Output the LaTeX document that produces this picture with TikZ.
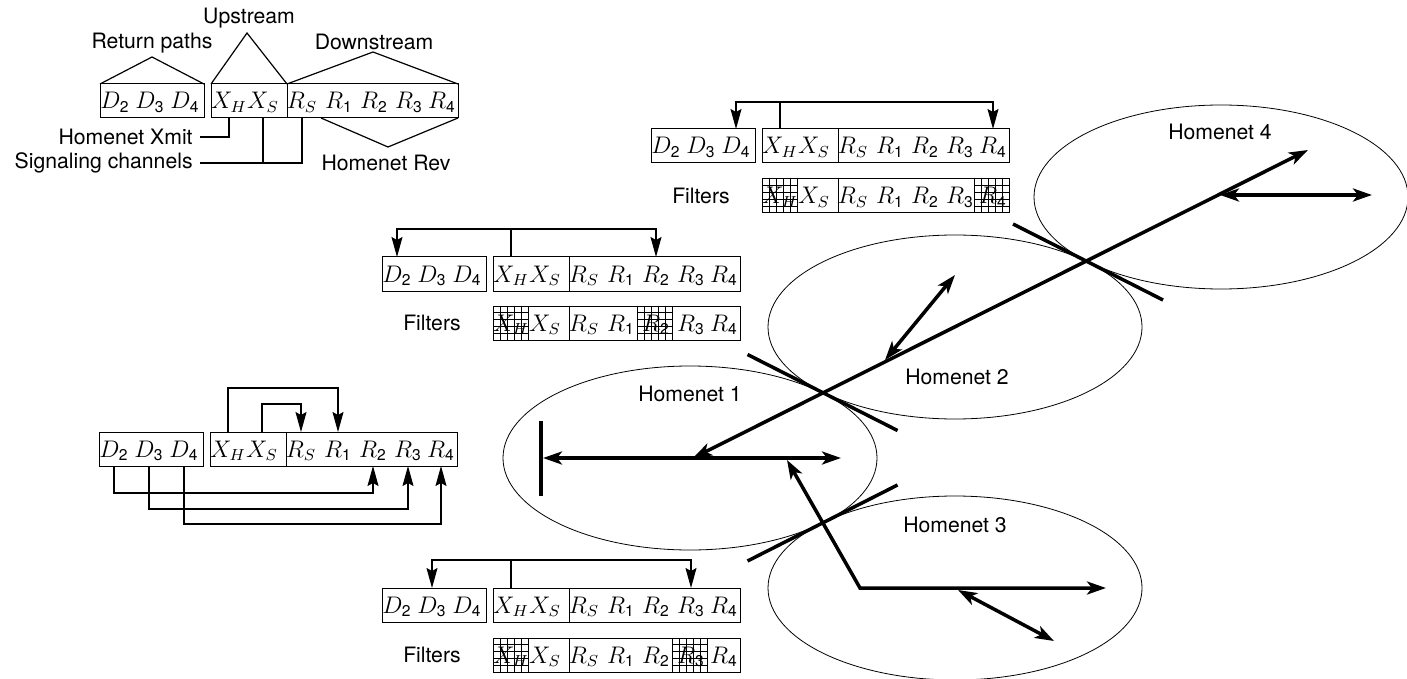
\documentclass[tikz,border=0pt]{standalone}
\usepackage{fontspec}
\setmainfont{TeX Gyre Heros}
\usetikzlibrary{arrows.meta,shapes.geometric,calc}

% upright sans digit used as a channel index
\newcommand\dg[1]{\hbox{\fontsize{7.8}{9}\selectfont #1}}

% 5x5 blocking grid laid over one channel cell of a filter row
\newcommand\blockgrid[1]{%
  \foreach \k in {0,...,5} {
    \draw[gridline] ({#1+7*\k},0) -- ({#1+7*\k},34);
    \draw[gridline] (#1,{6.8*\k}) -- ({#1+35},{6.8*\k});
  }}

% channel symbols of the X and R groups
\newcommand\xrsymbols[1]{%
  \node[sym] (#1-XH) at (129,25) {$X_H$};
  \node[sym] (#1-XS) at (163,25) {$X_S$};
  \node[sym] (#1-RS) at (202,25) {$R_S$};
  \node[sym] (#1-R1) at (239,25) {$R_{\dg1}$};
  \node[sym] (#1-R2) at (274,25) {$R_{\dg2}$};
  \node[sym] (#1-R3) at (309,25) {$R_{\dg3}$};
  \node[sym] (#1-R4) at (342,25) {$R_{\dg4}$};}

% full channel band: D group, X group, R group
\newcommand\bandrow[3]{%
  \begin{scope}[shift={(#2,#3)}]
    \node[cell, minimum width=52pt]   (#1-D) at (52,17) {};
    \node[cell, minimum width=38pt]   (#1-X) at (149,17) {};
    \node[cell, minimum width=85.5pt] (#1-R) at (272.5,17) {};
    \node[sym] (#1-D2) at (15,25) {$D_{\dg2}$};
    \node[sym] (#1-D3) at (50,25) {$D_{\dg3}$};
    \node[sym] (#1-D4) at (85,25) {$D_{\dg4}$};
    \xrsymbols{#1}
  \end{scope}}

% filter row: X and R groups, X_H and one receive channel blocked
\newcommand\filterrow[4]{%
  \begin{scope}[shift={(#2,#3)}]
    \node[cell, minimum width=38pt]   (#1-X) at (149,17) {};
    \node[cell, minimum width=85.5pt] (#1-R) at (272.5,17) {};
    \node[lbl] (#1-name) at (50,17) {Filters};
    \xrsymbols{#1}
    \blockgrid{111}
    \blockgrid{#4}
  \end{scope}}

\begin{document}
\begin{tikzpicture}[x=0.5pt,y=-0.5pt,
  cell/.style={draw, rectangle, line width=0.5pt, minimum height=17pt, inner sep=0pt, outer sep=0pt},
  sym/.style={anchor=base, inner sep=0pt, font=\fontsize{11.6}{14}\selectfont},
  lbl/.style={font=\fontsize{10.6}{12.7}\selectfont, inner sep=0pt},
  conn/.style={line width=0.6pt},
  toarrow/.style={-{Stealth[length=10pt,width=5.5pt,inset=1.5pt]}},
  heavy/.style={line width=1.75pt},
  bothheads/.style={{Stealth[length=9.5pt,width=6.5pt,inset=2.5pt]}-{Stealth[length=9.5pt,width=6.5pt,inset=2.5pt]}},
  zone/.style={draw, ellipse, line width=0.4pt, minimum width=187pt, minimum height=92pt, inner sep=0pt},
  gridline/.style={line width=0.5pt}]

\useasboundingbox (0,0) rectangle (1407,679);

% ---------------- legend ----------------
\bandrow{L}{100}{84}
\coordinate (ret-apex) at (152,57);
\coordinate (up-apex) at (247,33);
\coordinate (down-apex) at (373,52);
\coordinate (rev-apex) at (388,147);
\draw[conn] (L-D.north west) -- (ret-apex) -- (L-D.north east);
\draw[conn] (L-X.north west) -- (up-apex) -- (L-X.north east);
\draw[conn] (L-R.north west) -- (down-apex) -- (L-R.north east);
\draw[conn] ($(L-R.south west)+(34,0)$) -- (rev-apex) -- (L-R.south east);
\node[lbl] (ret-name) at (152,43) {Return paths};
\node[lbl] (up-name) at (249,18) {Upstream};
\node[lbl] (down-name) at (374,42) {Downstream};
\node[lbl] (rev-name) at (386,163) {Homenet Rev};
\node[lbl, anchor=east] (xmit-name) at (193,137) {Homenet Xmit};
\node[lbl, anchor=east] (sig-name) at (193,163) {Signaling channels};
\draw[conn] ($(xmit-name.east)+(7,0)$) -| (L-XH |- L-X.south);
\draw[conn] ($(sig-name.east)+(7,0)$) -| (L-RS |- L-R.south);
\draw[conn] (L-XS |- L-X.south) -- (L-XS |- sig-name.east);

% ---------------- Homenet 1 band (loop-back) ----------------
\bandrow{h1}{99}{432}
\draw[conn, toarrow] (h1-XH |- h1-X.north) -- ++(0,-44) -| (h1-R1 |- h1-R.north);
\draw[conn, toarrow] (h1-XS |- h1-X.north) -- ++(0,-28) -| (h1-RS |- h1-R.north);
\draw[conn, toarrow] (h1-D2 |- h1-D.south) -- ++(0,27) -| (h1-R2 |- h1-R.south);
\draw[conn, toarrow] (h1-D3 |- h1-D.south) -- ++(0,43) -| (h1-R3 |- h1-R.south);
\draw[conn, toarrow] (h1-D4 |- h1-D.south) -- ++(0,58) -| (h1-R4 |- h1-R.south);

% ---------------- Homenet 2 band ----------------
\bandrow{h2}{382}{257}
\filterrow{h2f}{382}{306}{255}
\coordinate (h2-bus) at ($(h2-XH |- h2-X.north)+(0,-28)$);
\draw[conn] (h2-XH |- h2-X.north) -- (h2-bus);
\draw[conn, toarrow] (h2-bus) -| (h2-D2 |- h2-D.north);
\draw[conn, toarrow] (h2-bus) -| (h2-R2 |- h2-R.north);

% ---------------- Homenet 3 band ----------------
\bandrow{h3}{382}{588}
\filterrow{h3f}{382}{638}{290}
\coordinate (h3-bus) at ($(h3-XH |- h3-X.north)+(0,-28)$);
\draw[conn] (h3-XH |- h3-X.north) -- (h3-bus);
\draw[conn, toarrow] (h3-bus) -| (h3-D3 |- h3-D.north);
\draw[conn, toarrow] (h3-bus) -| (h3-R3 |- h3-R.north);

% ---------------- Homenet 4 band ----------------
\bandrow{h4}{651}{129}
\filterrow{h4f}{651}{179}{323}
\coordinate (h4-bus) at ($(h4-XH |- h4-X.north)+(0,-27)$);
\draw[conn] (h4-XH |- h4-X.north) -- (h4-bus);
\draw[conn, toarrow] (h4-bus) -| (h4-D4 |- h4-D.north);
\draw[conn, toarrow] (h4-bus) -| (h4-R4 |- h4-R.north);

% ---------------- homenet zones ----------------
\node[zone] (hn1) at (690,458) {};
\node[zone] (hn2) at (955,327) {};
\node[zone] (hn3) at (955,588) {};
\node[zone] (hn4) at (1221,197) {};
\node[lbl] (hn1-name) at (690,394) {Homenet 1};
\node[lbl] (hn2-name) at (957,377) {Homenet 2};
\node[lbl] (hn3-name) at (955,525) {Homenet 3};
\node[lbl] (hn4-name) at (1220,132) {Homenet 4};

% barriers where the zones touch
\coordinate (t12) at ($(hn1.center)!0.5!(hn2.center)$);
\coordinate (t13) at ($(hn1.center)!0.5!(hn3.center)$);
\coordinate (t24) at ($(hn2.center)!0.5!(hn4.center)$);
\draw[heavy] ($(t12)+(-75,-38)$) -- ($(t12)+(75,38)$);
\draw[heavy] ($(t13)+(-75,38)$) -- ($(t13)+(75,-38)$);
\draw[heavy] ($(t24)+(-75,-38)$) -- ($(t24)+(75,38)$);

% signal paths
\coordinate (bar-top) at (541,421);
\coordinate (bar-bot) at (541,496);
\draw[heavy] (bar-top) -- (bar-bot);
\coordinate (h1-left) at (543,458);
\coordinate (h1-right) at (841,458);
\draw[heavy, bothheads] (h1-left) -- (h1-right);

\coordinate (diag-h1) at (693,458);
\coordinate (diag-h4) at (1308,150);
\draw[heavy, bothheads] (diag-h1) -- (diag-h4);

\coordinate (h2-low) at (885,360);
\coordinate (h2-high) at (955,275);
\draw[heavy, bothheads] (h2-low) -- (h2-high);

\coordinate (h4-left) at (1220,195);
\coordinate (h4-right) at (1372,195);
\draw[heavy, bothheads] (h4-left) -- (h4-right);

\coordinate (h3-start) at (787,460);
\coordinate (h3-corner) at (860,588);
\coordinate (h3-end) at (1106,588);
\draw[heavy, bothheads] (h3-start) -- (h3-corner) -- (h3-end);

\coordinate (h3-a) at (958,590);
\coordinate (h3-b) at (1054,641);
\draw[heavy, bothheads] (h3-a) -- (h3-b);
\end{tikzpicture}
\end{document}
